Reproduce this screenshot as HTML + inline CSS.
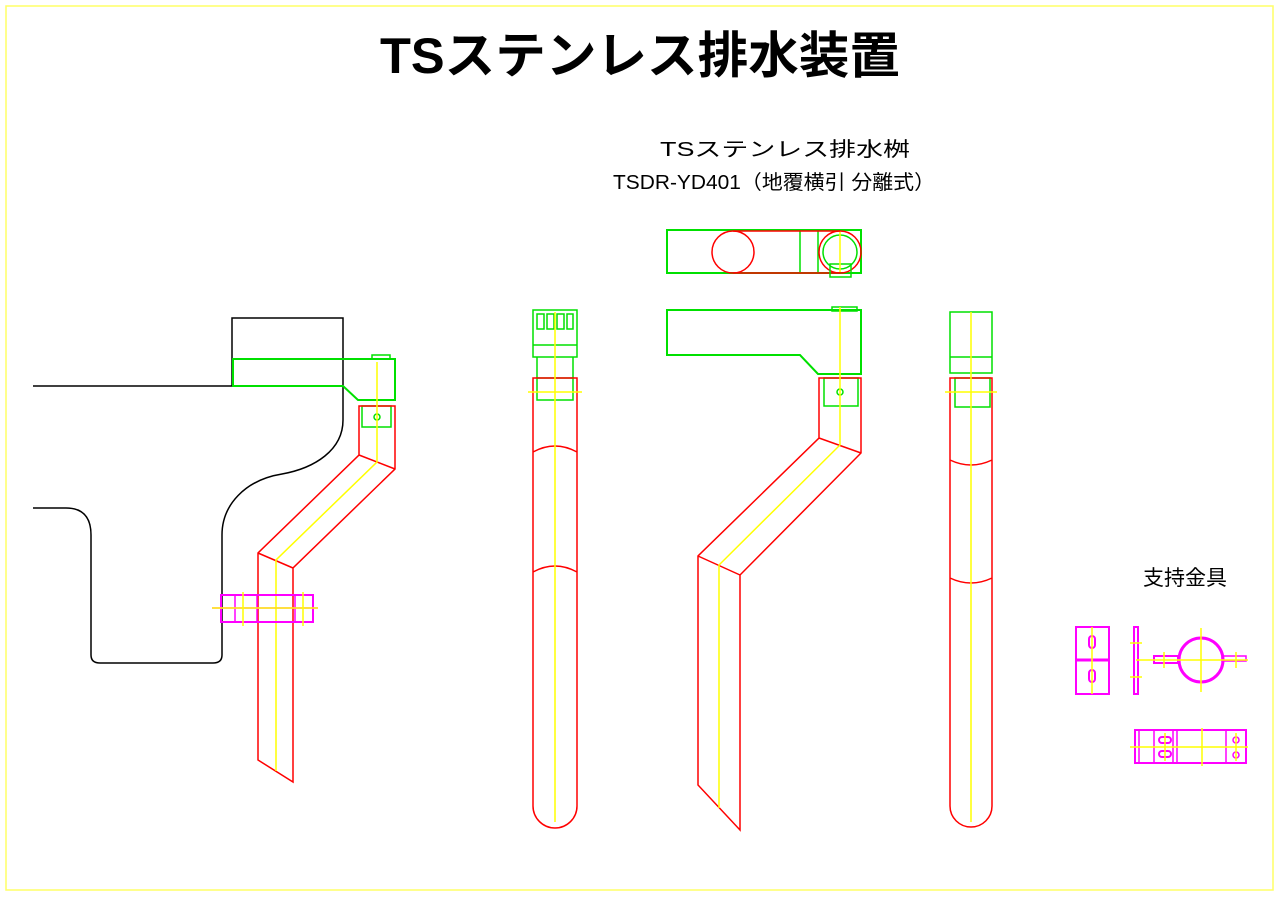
<!DOCTYPE html>
<html><head><meta charset="utf-8"><style>
html,body{margin:0;padding:0;background:#fff;}
svg{display:block}
text{font-family:"Liberation Sans","Noto Sans CJK JP",sans-serif;fill:#000}
</style></head><body>
<svg width="1280" height="905" viewBox="0 0 1280 905" xmlns="http://www.w3.org/2000/svg">
<rect x="6" y="6" width="1267" height="884" fill="none" stroke="#ffff66" stroke-width="1.5"/>
<text x="640" y="73" font-size="50" font-weight="bold" text-anchor="middle" textLength="520" lengthAdjust="spacingAndGlyphs">TSステンレス排水装置</text>
<text x="785" y="156" font-size="20" text-anchor="middle" textLength="250" lengthAdjust="spacingAndGlyphs">TSステンレス排水桝</text>
<text x="774" y="189" font-size="20" text-anchor="middle" textLength="322" lengthAdjust="spacingAndGlyphs">TSDR-YD401（地覆横引 分離式）</text>
<text x="1185" y="585" font-size="21" text-anchor="middle">支持金具</text>

<g fill="none" stroke-width="1.5">
<!-- left view -->
<path d="M33,386 H232 V318 H343 V420 C343,450 315,468 282,474 C245,480 222,505 222,535 V655 Q222,663 213,663 H100 Q91,663 91,655 V535 Q91,508 66,508 H33" stroke="#000"/>
<path d="M233,359 H395 V400 H358 L343,386 H233 Z" stroke="#00e000" stroke-width="2"/>
<rect x="372" y="355" width="18" height="4" stroke="#00e000"/>
<rect x="362" y="406" width="29" height="21" stroke="#00e000"/>
<circle cx="377" cy="417" r="3" stroke="#00e000"/>
<path d="M359,406 H395 V469 L293,568 V782 L258,760 V553 L359,455 Z M359,455 L395,469 M258,553 L293,568" stroke="#f00"/>
<path d="M377,362 V462 L276,560 V771" stroke="#ff0"/>
<rect x="221" y="595" width="92" height="27" stroke="#f0f" stroke-width="2"/>
<path d="M235,595 V622 M257,595 V622 M295,595 V622 M212,608 H318" stroke="#f0f"/>
<path d="M212,608 H318 M243,592 V626 M303,592 V626" stroke="#ff0"/>
<!-- side view -->
<rect x="533" y="310" width="44" height="47" stroke="#00e000"/>
<path d="M533,345 H577 M537,314 h7 v15 h-7z M547,314 h7 v15 h-7z M557,314 h7 v15 h-7z M567,314 h6 v15 h-6z" stroke="#00e000"/>
<path d="M537,357 V378 M573,357 V378" stroke="#00e000"/>
<rect x="537" y="378" width="36" height="22" stroke="#00e000"/>
<path d="M533,378 V806 A22,22 0 0 0 577,806 V378 Z M533,452 Q555,440 577,452 M533,572 Q555,560 577,572" stroke="#f00"/>
<path d="M555,312 V822 M528,392 H582" stroke="#ff0"/>
<!-- top view -->
<rect x="667" y="230" width="194" height="43" stroke="#00e000" stroke-width="2"/>
<path d="M800,230 V273 M818,230 V273" stroke="#00e000"/>
<path d="M733,231 H840 M733,273 H840" stroke="#f00"/>
<circle cx="733" cy="252" r="21" stroke="#f00"/>
<circle cx="840" cy="252" r="21" stroke="#f00"/>
<circle cx="840" cy="252" r="17" stroke="#00e000"/>
<rect x="830" y="264" width="21" height="13" stroke="#00e000"/>
<path d="M840,232 V272" stroke="#ff0"/>
<!-- front view -->
<path d="M667,310 H861 V374 H818 L800,355 H667 Z" stroke="#00e000" stroke-width="2"/>
<rect x="832" y="307" width="25" height="4" stroke="#00e000"/>
<rect x="824" y="378" width="34" height="28" stroke="#00e000"/>
<circle cx="840" cy="392" r="3" stroke="#00e000"/>
<path d="M819,378 H861 V453 L740,575 V830 L698,785 V556 L819,438 Z M819,438 L861,453 M698,556 L740,575" stroke="#f00"/>
<path d="M840,307 V445 L719,565 V808" stroke="#ff0"/>
<!-- right view -->
<rect x="950" y="312" width="42" height="61" stroke="#00e000"/>
<path d="M950,357 H992" stroke="#00e000"/>
<rect x="955" y="378" width="35" height="29" stroke="#00e000"/>
<path d="M950,378 V806 A21,21 0 0 0 992,806 V378 Z M950,460 Q971,470 992,460 M950,578 Q971,588 992,578" stroke="#f00"/>
<path d="M971,312 V822 M945,392 H997" stroke="#ff0"/>
<!-- support fittings -->
<rect x="1076" y="627" width="33" height="67" stroke="#f0f" stroke-width="2"/>
<path d="M1076,660 H1109" stroke="#f0f" stroke-width="3"/>
<rect x="1089" y="636" width="6" height="12" rx="3" stroke="#f0f" stroke-width="2"/>
<rect x="1089" y="670" width="6" height="12" rx="3" stroke="#f0f" stroke-width="2"/>
<path d="M1092,627 V694" stroke="#ff0"/>
<rect x="1134" y="627" width="4" height="67" stroke="#f0f" stroke-width="2"/>
<rect x="1154" y="656" width="24" height="7" stroke="#f0f" stroke-width="2"/>
<rect x="1222" y="656" width="24" height="5" stroke="#f0f" stroke-width="1.5"/>
<circle cx="1201" cy="660" r="22" stroke="#f0f" stroke-width="3"/>
<path d="M1136,660 H1248 M1201,628 V692 M1130,643 H1142 M1130,677 H1142 M1164,652 V668 M1236,652 V668" stroke="#ff0"/>
<rect x="1135" y="730" width="111" height="33" stroke="#f0f" stroke-width="2"/>
<path d="M1139,730 V763 M1154,730 V763 M1173,730 V763 M1177,730 V763 M1226,730 V763" stroke="#f0f"/>
<rect x="1159" y="737" width="12" height="6" rx="3" stroke="#f0f" stroke-width="2"/>
<rect x="1159" y="751" width="12" height="6" rx="3" stroke="#f0f" stroke-width="2"/>
<circle cx="1236" cy="740" r="3" stroke="#f0f"/>
<circle cx="1236" cy="755" r="3" stroke="#f0f"/>
<path d="M1130,747 H1248 M1202,728 V766 M1165,733 V761 M1236,733 V761" stroke="#ff0"/>
</g>
</svg>
</body></html>
